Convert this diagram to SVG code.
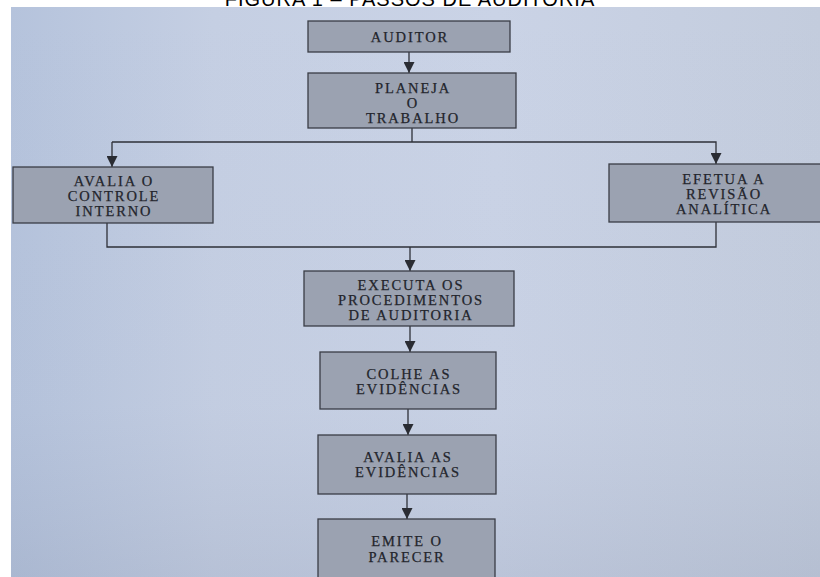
<svg xmlns="http://www.w3.org/2000/svg" width="820" height="577" viewBox="0 0 820 577">
<defs>
<linearGradient id="page" x1="0" y1="0" x2="1" y2="0">
<stop offset="0" stop-color="#b5c3dc"/>
<stop offset="0.25" stop-color="#c5cfe3"/>
<stop offset="0.6" stop-color="#cad3e6"/>
<stop offset="1" stop-color="#c3ccdd"/>
</linearGradient>
<linearGradient id="shade" x1="0" y1="0" x2="0" y2="1">
<stop offset="0" stop-color="#8a96b0" stop-opacity="0"/>
<stop offset="0.7" stop-color="#8a96b0" stop-opacity="0.04"/>
<stop offset="1" stop-color="#7d89a3" stop-opacity="0.2"/>
</linearGradient>
<marker id="arr" viewBox="0 0 10 10" refX="10" refY="5" markerWidth="11" markerHeight="11" markerUnits="userSpaceOnUse" orient="auto">
<path d="M0,0 L10,5 L0,10 z" fill="#2a2c33"/>
</marker>
</defs>
<style>
.box{fill:#9ba2b1;stroke:#3a3d46;stroke-width:1.3}
.t{font-family:"Liberation Serif","DejaVu Serif",serif;font-size:14.5px;letter-spacing:1.9px;fill:#23252c;stroke:#23252c;stroke-width:0.25;text-anchor:middle}
.ln{fill:none;stroke:#2e3038;stroke-width:1.3}
.title{font-family:"Liberation Sans",Arial,sans-serif;font-size:20px;fill:#000;text-anchor:middle;letter-spacing:1px}
</style>
<rect width="820" height="577" fill="#ffffff"/>
<text class="title" x="410" y="6">FIGURA 1 – PASSOS DE AUDITORIA</text>
<rect x="11" y="7" width="809" height="570" fill="url(#page)"/>
<rect x="11" y="7" width="809" height="570" fill="url(#shade)"/>
<g id="connectors">
<line class="ln" x1="409" y1="52" x2="409" y2="73" marker-end="url(#arr)"/>
<line class="ln" x1="412" y1="128" x2="412" y2="142"/>
<polyline class="ln" points="112,142 716,142 716,164" marker-end="url(#arr)"/>
<line class="ln" x1="112" y1="142" x2="112" y2="167" marker-end="url(#arr)"/>
<polyline class="ln" points="107,222 107,247 716,247 716,222"/>
<line class="ln" x1="410" y1="247" x2="410" y2="271" marker-end="url(#arr)"/>
<line class="ln" x1="410" y1="326" x2="410" y2="352" marker-end="url(#arr)"/>
<line class="ln" x1="408" y1="409" x2="408" y2="435" marker-end="url(#arr)"/>
<line class="ln" x1="407" y1="494" x2="407" y2="519" marker-end="url(#arr)"/>
</g>
<g id="auditor">
<rect class="box" x="308" y="21" width="202" height="31"/>
<text class="t" x="410" y="42">AUDITOR</text>
</g>
<g id="planeja">
<rect class="box" x="308" y="73" width="208" height="55"/>
<text class="t" x="413" y="93">PLANEJA</text>
<text class="t" x="413" y="108">O</text>
<text class="t" x="413" y="123">TRABALHO</text>
</g>
<g id="controle">
<rect class="box" x="13" y="167" width="200" height="56"/>
<text class="t" x="114" y="186">AVALIA O</text>
<text class="t" x="114" y="201">CONTROLE</text>
<text class="t" x="114" y="216">INTERNO</text>
</g>
<g id="revisao">
<rect class="box" x="609" y="164" width="215" height="58"/>
<text class="t" x="724" y="184">EFETUA A</text>
<text class="t" x="724" y="199">REVISÃO</text>
<text class="t" x="724" y="214">ANALÍTICA</text>
</g>
<g id="executa">
<rect class="box" x="304" y="271" width="210" height="55"/>
<text class="t" x="411" y="290">EXECUTA OS</text>
<text class="t" x="411" y="305">PROCEDIMENTOS</text>
<text class="t" x="411" y="320">DE AUDITORIA</text>
</g>
<g id="colhe">
<rect class="box" x="320" y="352" width="176" height="57"/>
<text class="t" x="409" y="379">COLHE AS</text>
<text class="t" x="409" y="394">EVIDÊNCIAS</text>
</g>
<g id="avalia">
<rect class="box" x="318" y="435" width="178" height="59"/>
<text class="t" x="408" y="462">AVALIA AS</text>
<text class="t" x="408" y="477">EVIDÊNCIAS</text>
</g>
<g id="emite">
<rect class="box" x="318" y="519" width="177" height="62"/>
<text class="t" x="407" y="546">EMITE O</text>
<text class="t" x="407" y="562">PARECER</text>
</g>
</svg>
